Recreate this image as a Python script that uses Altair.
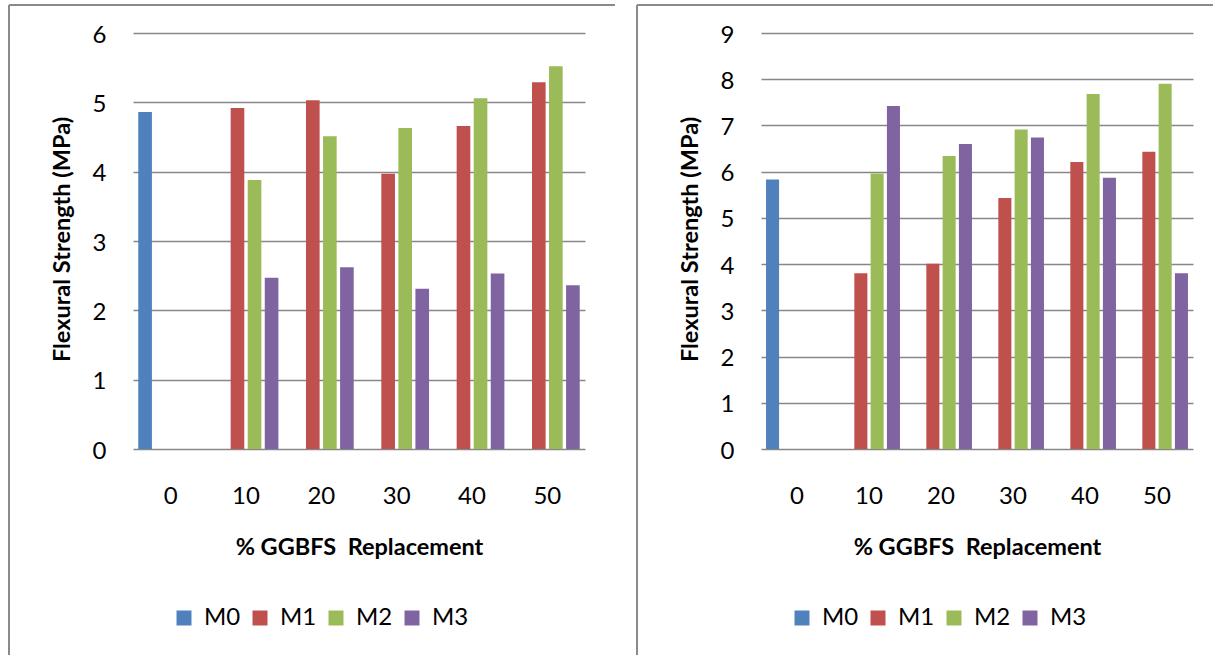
import altair as alt
import pandas as pd

categories = ["0", "10", "20", "30", "40", "50"]
series = ["M0", "M1", "M2", "M3"]
colors = ["#4F81BD", "#C0504D", "#9BBB59", "#8064A2"]

left_M0 = [4.86, None, None, None, None, None]
left_M1 = [None, 4.92, 5.03, 3.97, 4.66, 5.29]
left_M2 = [None, 3.88, 4.51, 4.63, 5.06, 5.52]
left_M3 = [None, 2.47, 2.62, 2.31, 2.53, 2.36]

right_M0 = [5.83, None, None, None, None, None]
right_M1 = [None, 3.80, 4.01, 5.43, 6.21, 6.43]
right_M2 = [None, 5.96, 6.34, 6.91, 7.68, 7.90]
right_M3 = [None, 7.42, 6.60, 6.74, 5.87, 3.80]

x_title = "% GGBFS\u00a0 Replacement"
y_title = "Flexural Strength (MPa)"
FONT = "Lato"
FRAME = "#8a8a8a"
GRID = "#878787"


def to_long(cols):
    rows = []
    for s, vals in zip(series, cols):
        for c, v in zip(categories, vals):
            if v is not None:
                rows.append({"pct": c, "series": s, "value": v})
    return pd.DataFrame(rows)


def panel(df, ymax, width, height, legend_x, frame_right):
    one = pd.DataFrame({"k": [0]})
    top_line = alt.Chart(one).mark_rule(color=FRAME, strokeWidth=2).encode(
        x=alt.value(-124), x2=alt.value(frame_right), y=alt.value(-28)
    )
    left_line = alt.Chart(one).mark_rule(color=FRAME, strokeWidth=2).encode(
        x=alt.value(-124), y=alt.value(-28), y2=alt.value(622)
    )
    layers = [top_line, left_line]
    if frame_right < 450:
        right_line = alt.Chart(one).mark_rule(color=FRAME, strokeWidth=2).encode(
            x=alt.value(frame_right), y=alt.value(-28), y2=alt.value(622)
        )
        layers.append(right_line)

    bars = alt.Chart(df).mark_bar().encode(
        x=alt.X(
            "pct:N",
            sort=categories,
            scale=alt.Scale(domain=categories, paddingInner=0.14, paddingOuter=0.07),
            axis=alt.Axis(
                title=x_title,
                labelAngle=0,
                labelFont=FONT,
                labelFontSize=24,
                labelColor="#000000",
                labelPadding=35,
                ticks=False,
                tickSize=0,
                domain=False,
                grid=False,
                titleFont=FONT,
                titleFontSize=23.5,
                titleFontWeight="bold",
                titleColor="#000000",
                titleX=width / 2,
                titleY=98,
                titleBaseline="middle",
                titleAlign="center",
            ),
        ),
        xOffset=alt.XOffset(
            "series:N",
            scale=alt.Scale(domain=series, paddingInner=0.2, paddingOuter=0),
        ),
        y=alt.Y(
            "value:Q",
            scale=alt.Scale(domain=[0, ymax], nice=False),
            axis=alt.Axis(
                title=y_title,
                values=list(range(0, ymax + 1)),
                format="d",
                labelFont=FONT,
                labelFontSize=24,
                labelColor="#000000",
                labelPadding=27,
                labelOffset=2,
                ticks=False,
                tickSize=0,
                domain=False,
                grid=True,
                gridColor=GRID,
                gridWidth=1.6,
                titleFont=FONT,
                titleFontSize=23.5,
                titleFontWeight="bold",
                titleColor="#000000",
                titleAngle=-90,
                titleX=-71,
                titleY=206,
                titleBaseline="middle",
                titleAlign="center",
            ),
        ),
        color=alt.Color(
            "series:N",
            scale=alt.Scale(domain=series, range=colors),
            legend=alt.Legend(
                title=None,
                orient="none",
                legendX=legend_x,
                legendY=573,
                direction="horizontal",
                symbolType="square",
                symbolSize=225,
                symbolStrokeWidth=0,
                symbolOpacity=1,
                labelFont=FONT,
                labelFontSize=24,
                labelColor="#000000",
                labelOffset=8,
                columnPadding=7,
                padding=0,
            ),
        ),
    )
    layers.append(bars)
    return alt.layer(*layers).properties(width=width, height=height)


left = panel(to_long([left_M0, left_M1, left_M2, left_M3]), 6, 452, 416, 39, 482)
right = panel(to_long([right_M0, right_M1, right_M2, right_M3]), 9, 432, 416, 29, 452)

chart = (
    alt.hconcat(left, right, spacing=176, bounds="flush")
    .resolve_scale(color="independent", x="independent", y="independent", xOffset="independent")
    .resolve_legend(color="independent")
    .properties(padding={"left": 8, "top": 4, "right": 0, "bottom": 0}, background="white")
    .configure_view(stroke=None)
)

chart.save("out.html", embed_options={"renderer": "svg", "actions": False})
